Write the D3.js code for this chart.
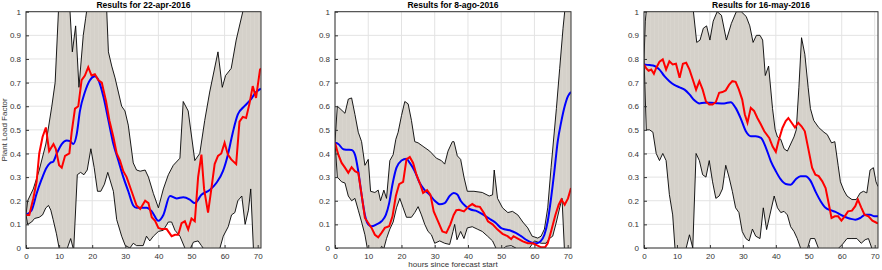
<!DOCTYPE html>
<html>
<head>
<meta charset="utf-8">
<script src="https://cdn.jsdelivr.net/npm/d3@7"></script>
<style>
  body { margin: 0; background: #fff; }
  text { font-family: "Liberation Sans", Arial, sans-serif; }
</style>
</head>
<body>
<svg id="chart" width="882" height="270"></svg>
<script>
// hours since forecast start on the x axis, plant load factor on y
const xTicks = [0, 10, 20, 30, 40, 50, 60, 70];
const yTicks = [0, 0.1, 0.2, 0.3, 0.4, 0.5, 0.6, 0.7, 0.8, 0.9, 1];
const titles = ["Results for 22-apr-2016", "Results for 8-ago-2016", "Results for 16-may-2016"];

// panel 1 : 22-apr-2016
const p1Upper = [[0,0.14],[0.5,0.2],[2.2,0.25],[4,0.33],[6,0.44],[7.8,0.6],[8.8,0.7],[9.8,1.0],[11,1.1],[13.3,1.0],[14,0.83],[15,0.94],[16,0.68],[17.3,0.9],[18,0.97],[18.8,1.05],[21,1.1],[24.4,1.0],[24.9,0.83],[25.9,0.77],[26.9,0.72],[27.9,0.66],[28.9,0.6],[29.9,0.58],[30.9,0.52],[32.4,0.36],[33.4,0.33],[34.5,0.325],[36,0.33],[37,0.3],[38.5,0.23],[40,0.17],[41.5,0.25],[43,0.31],[44.5,0.35],[46.5,0.38],[47.5,0.62],[49,0.58],[51,0.37],[52.5,0.4],[54,0.54],[55.5,0.66],[58,0.83],[59.3,0.68],[60.3,0.73],[62,0.76],[63.5,0.88],[65.5,1.0],[68,1.1],[71,1.15]];
const p1Lower = [[0,0.14],[0.5,0.1],[1.7,0.11],[2.6,0.125],[4,0.13],[5,0.14],[6,0.17],[6.8,0.18],[7.5,0.16],[8.2,0.12],[9.2,0.06],[10,0],[11,-0.05],[12.5,0],[13.5,0.04],[14.4,-0.01],[15.5,0.31],[16.5,0.32],[17.5,0.31],[18.5,0.33],[19.6,0.42],[20.6,0.34],[21.6,0.24],[22.6,0.24],[23.7,0.27],[24.7,0.32],[26.4,0.24],[27.4,0.12],[28.9,0.05],[30,0.01],[31.4,0.0],[32.4,0.02],[33.4,0.01],[35.4,0.01],[36.4,0.05],[37.4,0.03],[38.5,0.05],[40,0.07],[41.5,0.075],[43,0.11],[44,0.11],[45,0.075],[46.5,0.05],[48,0],[49,-0.02],[50.6,0.025],[52,0.03],[53,0.01],[54,-0.01],[56,-0.05],[58.6,0],[59.6,0.05],[61.1,0.09],[62.1,0.14],[63.1,0.15],[64,0.2],[65.2,0.22],[66.2,0.1],[67.2,0.16],[67.9,0.25],[68.7,0],[71,-0.1]];
const p1Blue = [[0,0.14],[1.7,0.16],[3.2,0.23],[4.7,0.29],[6.2,0.34],[7.3,0.36],[8.2,0.365],[9.3,0.4],[10.8,0.44],[12.3,0.455],[13.3,0.452],[14.3,0.44],[15.3,0.48],[16.3,0.58],[17.8,0.66],[19.3,0.71],[20.8,0.727],[21.9,0.71],[23.4,0.64],[24.9,0.54],[26.4,0.44],[27.9,0.37],[29.4,0.3],[30.9,0.24],[32.4,0.18],[33.4,0.17],[35,0.17],[36.5,0.17],[38,0.155],[40,0.115],[41.5,0.14],[43.5,0.22],[45.5,0.21],[47.5,0.215],[49.5,0.205],[51,0.19],[53,0.225],[55.5,0.245],[57.5,0.275],[59.5,0.325],[61,0.395],[62.5,0.49],[64,0.565],[66,0.6],[68,0.63],[69.5,0.66],[70.5,0.67],[71,0.675]];
const p1Red = [[0,0.14],[1,0.14],[2.2,0.21],[3.2,0.28],[4,0.4],[5,0.47],[6,0.51],[7,0.41],[8.3,0.44],[9,0.42],[10,0.35],[10.8,0.34],[11.8,0.39],[13.1,0.4],[13.8,0.49],[14.8,0.59],[15.8,0.6],[16.8,0.71],[17.8,0.73],[18.8,0.765],[19.8,0.73],[20.8,0.735],[21.9,0.71],[22.9,0.7],[24.2,0.62],[25.2,0.54],[26.4,0.47],[27.4,0.4],[28.4,0.37],[29.4,0.325],[30.4,0.3],[31.9,0.24],[33.4,0.18],[34.5,0.165],[36,0.2],[37,0.19],[38,0.13],[39,0.115],[40,0.085],[41,0.08],[42.5,0.08],[44,0.05],[45,0.056],[46,0.056],[47,0.105],[48,0.113],[49,0.078],[50,0.125],[51,0.113],[52,0.3],[53,0.395],[53.8,0.25],[55,0.15],[56,0.25],[57,0.355],[58,0.39],[59,0.4],[60,0.445],[61,0.395],[62,0.375],[63.5,0.355],[64.5,0.535],[65.5,0.555],[66.5,0.55],[67.5,0.61],[68.5,0.685],[69.5,0.635],[70.7,0.755],[71,0.76]];

// panel 2 : 8-ago-2016
const p2Upper = [[0,0.45],[0.7,0.6],[1.5,0.59],[3,0.57],[4,0.63],[5,0.635],[6,0.565],[7,0.49],[8,0.45],[9,0.35],[10,0.375],[10.7,0.24],[12,0.235],[13,0.245],[13.7,0.2],[14.7,0.245],[15.5,0.21],[16.5,0.37],[17.5,0.395],[18.3,0.46],[19,0.49],[20,0.56],[21,0.62],[22,0.61],[23,0.54],[24,0.45],[25,0.445],[26.5,0.43],[28.5,0.41],[30.5,0.38],[32,0.37],[33,0.355],[34,0.41],[35.3,0.45],[35.8,0.45],[36.8,0.39],[37.8,0.375],[38.8,0.3],[39.8,0.24],[41.8,0.24],[44.3,0.235],[46.4,0.22],[47.4,0.225],[47.9,0.33],[48.9,0.21],[50.4,0.17],[52,0.15],[53.4,0.155],[55,0.14],[56.5,0.11],[58,0.085],[59.3,0.05],[61,0.042],[62,0.05],[63,0.08],[64,0.17],[65,0.34],[66.6,0.59],[67.6,0.76],[68.6,0.93],[69.1,1.0],[71,1.25]];
const p2Lower = [[0,0.45],[0.7,0.3],[2,0.28],[3,0.275],[4,0.22],[5,0.2],[6,0.21],[7,0.16],[8,0.11],[9,0.056],[9.7,0],[11.5,-0.04],[13.5,-0.01],[14,0.007],[14.7,-0.002],[15.5,0.04],[16.5,0.08],[17.5,0.11],[18.5,0.17],[19.5,0.21],[20.5,0.17],[21.5,0.13],[23,0.13],[24,0.15],[25,0.175],[26,0.14],[27,0.1],[28,0.07],[29,0.056],[30,0.02],[31.5,0.03],[33,0.02],[34.5,0.015],[35.5,0.07],[36,0.1],[36.7,0.035],[37.8,0.07],[38.8,0.04],[39.8,0.085],[41.3,0.09],[42.8,0.08],[44.3,0.07],[45.9,0.05],[47.4,0.03],[48.4,0],[49.5,-0.02],[50.9,0],[51.4,0.007],[53,0.01],[54.4,0],[57,-0.03],[60,0.03],[62,0.02],[63.5,0.02],[64.5,0.04],[65.5,0.05],[66.6,0.11],[67.6,0.17],[68.3,0.21],[69,0],[71,-0.1]];
const p2Blue = [[0,0.445],[1,0.44],[2.5,0.418],[3.5,0.416],[5,0.415],[6,0.395],[7,0.325],[8,0.225],[9,0.14],[10,0.1],[11,0.092],[12.5,0.1],[14,0.113],[15.3,0.14],[16.3,0.19],[17.3,0.27],[18.5,0.34],[20,0.37],[21.5,0.378],[22.5,0.36],[24,0.325],[25.5,0.275],[27,0.245],[28.5,0.225],[30,0.2],[31.5,0.185],[33,0.19],[34.5,0.22],[35.7,0.233],[36.8,0.226],[37.8,0.2],[39.3,0.177],[40.8,0.163],[42.3,0.158],[43.8,0.148],[45.4,0.134],[46.9,0.12],[48.4,0.106],[49.9,0.085],[51.4,0.078],[52.9,0.073],[54.4,0.064],[56,0.05],[57.5,0.035],[59,0.024],[60.5,0.02],[61.8,0.028],[63,0.056],[64,0.113],[65,0.21],[66,0.325],[67,0.45],[68.1,0.537],[69.1,0.6],[70.1,0.643],[71,0.66]];
const p2Red = [[0,0.445],[1,0.395],[2,0.36],[3,0.34],[4,0.318],[5,0.342],[6,0.325],[7,0.318],[8,0.226],[9,0.127],[10,0.106],[11,0.085],[12,0.056],[13,0.045],[14,0.064],[15,0.085],[16.3,0.092],[17.3,0.134],[18.3,0.22],[19.3,0.27],[20.5,0.28],[21.5,0.375],[22.5,0.385],[23.5,0.36],[24.5,0.31],[25.5,0.275],[26.5,0.233],[27.7,0.245],[28.7,0.226],[29.7,0.155],[31,0.113],[32.3,0.07],[33.5,0.064],[34.7,0.1],[35.7,0.14],[36.5,0.16],[37.3,0.162],[38.8,0.155],[40.3,0.177],[41.3,0.186],[42.3,0.177],[43.6,0.174],[44.8,0.148],[46,0.113],[47.4,0.1],[48.9,0.078],[50.4,0.06],[51.9,0.05],[53,0.038],[53.7,0.05],[55,0.04],[56.5,0.028],[58,0.02],[59.5,0.02],[60.8,0.011],[62,0.003],[63.2,0.003],[64,0.02],[65,0.07],[66.3,0.14],[67.3,0.183],[68.1,0.205],[69.1,0.183],[70.1,0.21],[71,0.254]];

// panel 3 : 16-may-2016
const p3Upper = [[0,0.8],[0.4,0.96],[1,1.05],[8,1.1],[15,1.0],[16,0.87],[17,0.88],[18,0.93],[19,0.94],[20,0.88],[21,0.96],[22.2,1.0],[23.5,0.985],[25,0.88],[26.5,0.95],[28,1.0],[29.5,1.0],[31,0.98],[32.1,0.94],[33.1,0.87],[34.1,0.9],[35.2,0.9],[36,0.88],[36.8,0.73],[37.8,0.77],[39,0.59],[39.8,0.5],[40.5,0.47],[41.5,0.46],[42.5,0.42],[43.5,0.41],[44.5,0.44],[45.5,0.47],[46.2,0.5],[47,0.68],[47.8,0.89],[48.8,0.82],[49.8,0.68],[50.5,0.59],[51.5,0.54],[53,0.51],[54.6,0.49],[55.6,0.48],[56.9,0.445],[57.9,0.45],[58.9,0.35],[59.6,0.28],[60.6,0.245],[61.6,0.22],[63.1,0.205],[64.4,0.205],[65.6,0.233],[66.6,0.24],[67.6,0.233],[68.6,0.33],[69.6,0.34],[70.4,0.28],[71,0.26]];
const p3Lower = [[0,0.8],[0.7,0.5],[1.7,0.5],[2.7,0.49],[3.7,0.4],[4.7,0.37],[5.7,0.4],[6.7,0.37],[7.7,0.226],[8.7,0.14],[9.4,0],[11,-0.05],[12.8,0],[13.8,0.056],[14.8,0],[15.8,0.4],[16.8,0.37],[17.8,0.31],[18.8,0.3],[19.8,0.37],[20.8,0.28],[21.8,0.21],[22.8,0.22],[23.8,0.25],[24.8,0.35],[25.8,0.3],[26.8,0.24],[27.8,0.17],[28.8,0.15],[29.8,0.07],[30.9,0.04],[31.9,0.03],[32.9,0.08],[33.9,0.05],[35.2,0.04],[36.2,0.17],[37.2,0.078],[38.2,0.14],[39.5,0.22],[40.5,0.17],[41.5,0.15],[42.5,0.155],[43.5,0.14],[44.5,0.09],[45.5,0.07],[46.5,0.04],[47.5,0],[49,-0.03],[50.5,0.04],[51.8,0.04],[52.9,0],[56,-0.08],[59.1,0],[60.3,0.017],[61.6,0.04],[63.1,0.04],[64.6,0.04],[65.9,0.02],[67.1,0.035],[68.1,0.04],[69.1,0],[71,-0.05]];
const p3Blue = [[0,0.777],[1.7,0.774],[3.2,0.77],[4.7,0.755],[6.2,0.727],[7.7,0.706],[9.2,0.69],[10.8,0.68],[12.3,0.67],[13.8,0.65],[15.3,0.625],[16.8,0.612],[18.3,0.615],[20.3,0.615],[22.3,0.613],[24.3,0.612],[26.3,0.617],[27.8,0.593],[29.3,0.55],[30.9,0.494],[32.4,0.473],[33.9,0.473],[35.5,0.466],[37,0.424],[38.5,0.367],[40,0.325],[41.5,0.29],[43,0.271],[44.5,0.268],[46,0.29],[47.5,0.304],[49,0.304],[50.5,0.285],[52,0.24],[53.6,0.198],[55.1,0.17],[56.6,0.16],[58.1,0.153],[59.6,0.141],[61.1,0.131],[62.6,0.124],[64.1,0.12],[65.6,0.127],[67.1,0.141],[68.6,0.141],[69.9,0.134],[71,0.134]];
const p3Red = [[0,0.777],[0.7,0.76],[1.4,0.75],[2.2,0.755],[3,0.737],[3.7,0.762],[4.7,0.788],[5.7,0.798],[6.7,0.755],[7.7,0.79],[8.7,0.777],[9.7,0.78],[10.8,0.72],[11.8,0.78],[12.8,0.784],[13.8,0.755],[14.8,0.713],[15.8,0.67],[16.8,0.706],[17.8,0.67],[18.8,0.62],[19.8,0.607],[20.8,0.607],[21.8,0.618],[22.8,0.657],[23.8,0.66],[24.8,0.667],[25.8,0.69],[26.8,0.706],[27.8,0.703],[28.8,0.67],[29.8,0.628],[30.6,0.565],[31.4,0.53],[32.4,0.593],[33.4,0.58],[34.4,0.55],[35.4,0.525],[36.5,0.494],[38,0.466],[39,0.43],[40,0.407],[40.8,0.452],[42,0.508],[43,0.537],[43.8,0.55],[44.8,0.53],[45.8,0.51],[46.8,0.53],[47.8,0.515],[48.8,0.494],[50,0.41],[51,0.34],[52,0.31],[53,0.304],[54.1,0.282],[55.1,0.254],[56.1,0.184],[56.9,0.127],[57.9,0.134],[58.9,0.134],[59.9,0.116],[60.9,0.134],[61.9,0.155],[63.1,0.158],[64.1,0.177],[64.9,0.205],[65.9,0.172],[66.9,0.141],[68.1,0.134],[69.3,0.116],[70.7,0.106],[71,0.105]];

const panels = [
  { title: titles[0], upper: p1Upper, lower: p1Lower, blue: p1Blue, red: p1Red, left: 26, right: 261 },
  { title: titles[1], upper: p2Upper, lower: p2Lower, blue: p2Blue, red: p2Red, left: 335, right: 571 },
  { title: titles[2], upper: p3Upper, lower: p3Lower, blue: p3Blue, red: p3Red, left: 644, right: 878 },
];

const svg = d3.select("#chart");
const plotTop = 11.7, plotBottom = 248;

const defs = svg.append("defs");
// faint vertical streaks seen in the band fill
const pat = defs.append("pattern")
  .attr("id", "bandFill")
  .attr("patternUnits", "userSpaceOnUse")
  .attr("width", 4)
  .attr("height", 10);
pat.append("rect").attr("width", 4).attr("height", 10).attr("fill", "#d5d1ca");
pat.append("rect").attr("x", 2).attr("width", 1).attr("height", 10).attr("fill", "#d9d5ce");

panels.forEach((p, i) => {
  const x = d3.scaleLinear().domain([0, 71]).range([p.left, p.right]);
  const y = d3.scaleLinear().domain([0, 1]).range([plotBottom, plotTop]);

  const g = svg.append("g");

  defs.append("clipPath")
    .attr("id", "clip" + i)
    .append("rect")
    .attr("x", p.left)
    .attr("y", plotTop)
    .attr("width", p.right - p.left)
    .attr("height", plotBottom - plotTop);

  // grid
  g.selectAll(".gx")
    .data(xTicks)
    .enter()
    .append("line")
    .attr("x1", (d) => x(d))
    .attr("x2", (d) => x(d))
    .attr("y1", plotTop)
    .attr("y2", plotBottom)
    .attr("stroke", "#e3e3e3")
    .attr("stroke-width", 1);
  g.selectAll(".gy")
    .data(yTicks)
    .enter()
    .append("line")
    .attr("x1", p.left)
    .attr("x2", p.right)
    .attr("y1", (d) => y(d))
    .attr("y2", (d) => y(d))
    .attr("stroke", "#e3e3e3")
    .attr("stroke-width", 1);

  const plot = g.append("g").attr("clip-path", `url(#clip${i})`);

  const line = d3.line().x((d) => x(d[0])).y((d) => y(d[1]));
  const smooth = d3.line().x((d) => x(d[0])).y((d) => y(d[1])).curve(d3.curveMonotoneX);

  // uncertainty band: upper forward then lower backward
  const band = p.upper.concat(p.lower.slice().reverse());
  plot.append("path")
    .attr("d", line(band) + "Z")
    .attr("fill", "url(#bandFill)")
    .attr("stroke", "none");

  plot.append("path")
    .attr("d", line(p.upper))
    .attr("fill", "none")
    .attr("stroke", "#000")
    .attr("stroke-width", 0.9);
  plot.append("path")
    .attr("d", line(p.lower))
    .attr("fill", "none")
    .attr("stroke", "#000")
    .attr("stroke-width", 0.9);

  plot.append("path")
    .attr("d", smooth(p.blue))
    .attr("fill", "none")
    .attr("stroke", "#0000ff")
    .attr("stroke-width", 2);
  plot.append("path")
    .attr("d", line(p.red))
    .attr("fill", "none")
    .attr("stroke", "#ff0000")
    .attr("stroke-width", 2);

  // axes (box style, ticks inward)
  const xAxis = d3.axisBottom(x).tickValues(xTicks).tickSize(-3).tickPadding(5);
  const yAxis = d3.axisLeft(y).tickValues(yTicks).tickSize(-3).tickPadding(5).tickFormat((d) => d3.format("")(d));

  const ax = g.append("g").attr("transform", `translate(0,${plotBottom})`).call(xAxis);
  const ay = g.append("g").attr("transform", `translate(${p.left},0)`).call(yAxis);
  [ax, ay].forEach((a) => {
    a.select(".domain").remove();
    a.selectAll("line").attr("stroke", "#333");
    a.selectAll("text").attr("fill", "#333").style("font-size", "8px");
  });

  g.append("rect")
    .attr("x", p.left)
    .attr("y", plotTop)
    .attr("width", p.right - p.left)
    .attr("height", plotBottom - plotTop)
    .attr("fill", "none")
    .attr("stroke", "#333")
    .attr("stroke-width", 1);

  g.append("text")
    .attr("x", (p.left + p.right) / 2)
    .attr("y", 8)
    .attr("text-anchor", "middle")
    .style("font-size", "8.5px")
    .style("font-weight", "bold")
    .attr("fill", "#000")
    .text(p.title);
});

svg.append("text")
  .attr("transform", `translate(7,${(plotTop + plotBottom) / 2}) rotate(-90)`)
  .attr("text-anchor", "middle")
  .style("font-size", "8px")
  .attr("fill", "#333")
  .text("Plant Load Factor");

svg.append("text")
  .attr("x", (panels[1].left + panels[1].right) / 2)
  .attr("y", 267)
  .attr("text-anchor", "middle")
  .style("font-size", "8px")
  .attr("fill", "#333")
  .text("hours since forecast start");
</script>
</body>
</html>
